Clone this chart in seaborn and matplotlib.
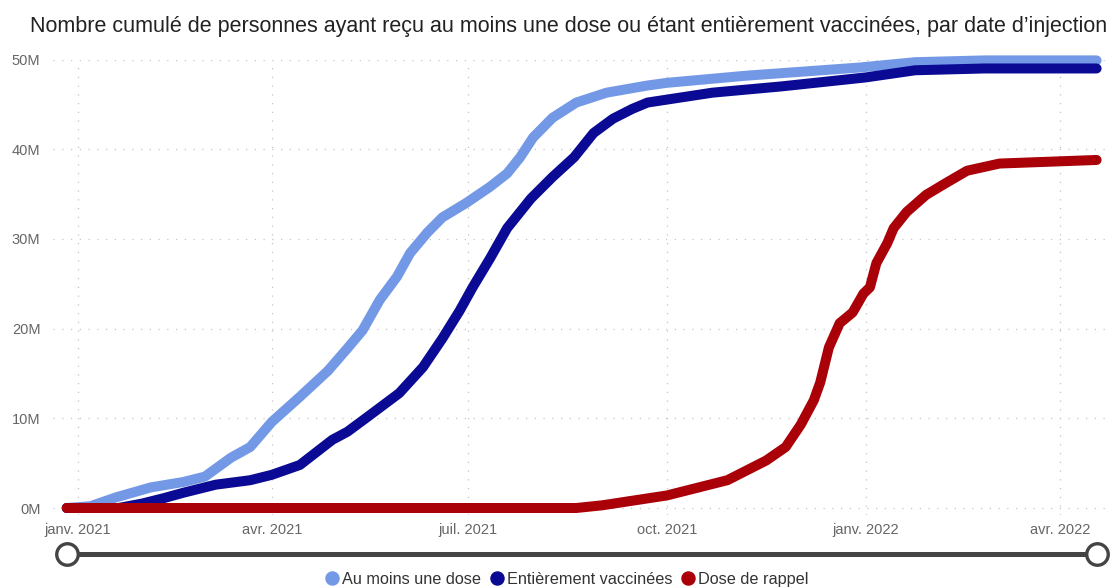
import numpy as np
import pandas as pd
import matplotlib
matplotlib.use("Agg")
import matplotlib.pyplot as plt
import matplotlib.dates as mdates
import seaborn as sns
from matplotlib.lines import Line2D
from matplotlib.ticker import FixedLocator, FuncFormatter

sns.set_theme(style="white")
plt.rcParams['font.family'] = ['Liberation Sans', 'DejaVu Sans']

title = "Nombre cumulé de personnes ayant reçu au moins une dose ou étant entièrement vaccinées, par date d’injection"
series_names = ["Au moins une dose", "Entièrement vaccinées", "Dose de rappel"]
colors = ["#7399E6", "#0A0A94", "#AA0008"]

# --- data (millions of people) ---
dose1_dates = ["2020-12-27", "2021-01-07", "2021-01-19", "2021-02-04", "2021-02-19", "2021-03-01",
               "2021-03-13", "2021-03-22", "2021-04-01", "2021-04-14", "2021-04-27", "2021-05-06",
               "2021-05-13", "2021-05-21", "2021-05-29", "2021-06-04", "2021-06-12", "2021-06-19",
               "2021-06-30", "2021-07-11", "2021-07-19", "2021-07-25", "2021-07-31", "2021-08-09",
               "2021-08-20", "2021-09-03", "2021-09-22", "2021-10-01", "2021-11-07", "2021-12-29",
               "2022-01-24", "2022-02-25", "2022-04-18"]
dose1_values = [0.0, 0.2, 1.2, 2.3, 2.9, 3.5,
                5.6, 6.8, 9.6, 12.4, 15.3, 17.8,
                19.8, 23.2, 25.8, 28.4, 30.7, 32.4,
                34.0, 35.8, 37.3, 39.1, 41.3, 43.5,
                45.2, 46.3, 47.1, 47.4, 48.2, 49.1,
                49.7, 49.9, 49.9]

full_dates = ["2020-12-27", "2021-01-20", "2021-01-31", "2021-02-10", "2021-02-19", "2021-03-06",
              "2021-03-22", "2021-04-01", "2021-04-14", "2021-04-29", "2021-05-06", "2021-05-15",
              "2021-05-30", "2021-06-10", "2021-06-19", "2021-06-27", "2021-07-03", "2021-07-11",
              "2021-07-19", "2021-07-30", "2021-08-09", "2021-08-19", "2021-08-28", "2021-09-06",
              "2021-09-15", "2021-09-22", "2021-10-22", "2021-11-23", "2022-01-01", "2022-01-24",
              "2022-02-25", "2022-04-18"]
full_values = [0.0, 0.0, 0.5, 1.1, 1.7, 2.6,
               3.1, 3.7, 4.8, 7.6, 8.5, 10.1,
               12.8, 15.7, 18.9, 22.0, 24.6, 27.8,
               31.2, 34.5, 36.9, 39.1, 41.8, 43.4,
               44.5, 45.2, 46.3, 47.0, 48.0, 48.8,
               49.0, 49.0]

booster_dates = ["2020-12-27", "2021-08-20", "2021-09-01", "2021-10-01", "2021-10-29", "2021-11-16",
                 "2021-11-25", "2021-12-02", "2021-12-08", "2021-12-11", "2021-12-15", "2021-12-20",
                 "2021-12-26", "2021-12-31", "2022-01-03", "2022-01-06", "2022-01-11", "2022-01-14",
                 "2022-01-20", "2022-01-29", "2022-02-07", "2022-02-17", "2022-03-04", "2022-04-18"]
booster_values = [0.0, 0.0, 0.3, 1.4, 3.1, 5.3,
                  6.8, 9.3, 12.0, 14.0, 17.9, 20.6,
                  21.8, 23.9, 24.6, 27.3, 29.5, 31.2,
                  33.0, 34.9, 36.2, 37.6, 38.4, 38.8]

y_ticks = [0, 10, 20, 30, 40, 50]
x_tick_dates = ["2021-01-01", "2021-04-01", "2021-07-01", "2021-10-01", "2022-01-01", "2022-04-01"]
x_tick_labels = ["janv. 2021", "avr. 2021", "juil. 2021", "oct. 2021", "janv. 2022", "avr. 2022"]

df = pd.concat([
    pd.DataFrame({"date": pd.to_datetime(dose1_dates), "value": dose1_values, "serie": series_names[0]}),
    pd.DataFrame({"date": pd.to_datetime(full_dates), "value": full_values, "serie": series_names[1]}),
    pd.DataFrame({"date": pd.to_datetime(booster_dates), "value": booster_values, "serie": series_names[2]}),
], ignore_index=True)

W, H = 1110, 587
fig = plt.figure(figsize=(W / 100, H / 100), dpi=100)
ax = fig.add_axes([53 / W, (H - 515) / H, 1057 / W, (515 - 59.5) / H])

sns.lineplot(data=df, x="date", y="value", hue="serie", hue_order=series_names,
             palette=colors, linewidth=7.2, legend=False, ax=ax, estimator=None, sort=True)
for ln in ax.lines:
    ln.set_solid_capstyle("round")
    ln.set_solid_joinstyle("round")
    ln.set_clip_on(False)

ref = mdates.date2num(pd.Timestamp("2021-01-01"))
ax.set_xlim(ref - 11.35, ref + 478.2)
ax.set_ylim(-0.78, 50)

ax.xaxis.set_major_locator(FixedLocator(mdates.date2num(pd.to_datetime(x_tick_dates))))
ax.set_xticklabels(x_tick_labels)
ax.yaxis.set_major_locator(FixedLocator(y_ticks))
ax.yaxis.set_major_formatter(FuncFormatter(lambda v, p: f"{int(v)}M"))
ax.tick_params(axis="both", length=0, labelsize=10.5, labelcolor="#666666")
ax.tick_params(axis="y", pad=9)
ax.tick_params(axis="x", pad=6)
ax.set_xlabel("")
ax.set_ylabel("")
for s in ax.spines.values():
    s.set_visible(False)
ax.grid(True, color="#c4c4c4", linestyle=(0, (1, 6)), linewidth=0.9)
ax.set_axisbelow(True)

# title
fig.text(569 / W, 1 - 32 / H, title, ha="center", va="baseline", fontsize=15.5, color="#222222")

# range slider below the axis
axs = fig.add_axes([53 / W, (H - 566) / H, 1057 / W, 25 / H], sharex=ax)
axs.set_ylim(-1, 1)
axs.axis("off")
d0, d1 = df["date"].min(), df["date"].max()
axs.plot([d0, d1], [0, 0], color="#444444", linewidth=3.6, solid_capstyle="butt", clip_on=False)
axs.scatter([d0, d1], [0, 0], s=240, facecolor="white", edgecolor="#444444", linewidth=2.4,
            zorder=3, clip_on=False)

# legend
handles = [Line2D([], [], marker="o", linestyle="None", markersize=9.4,
                  markerfacecolor=c, markeredgecolor=c) for c in colors]
fig.legend(handles, series_names, loc="center", bbox_to_anchor=(567 / W, 7.5 / H),
           ncol=3, frameon=False, fontsize=11.7, handlelength=0.8, handletextpad=0.2,
           columnspacing=0.6, borderpad=0, labelcolor="#333333")

fig.savefig("out.png", dpi=100)
